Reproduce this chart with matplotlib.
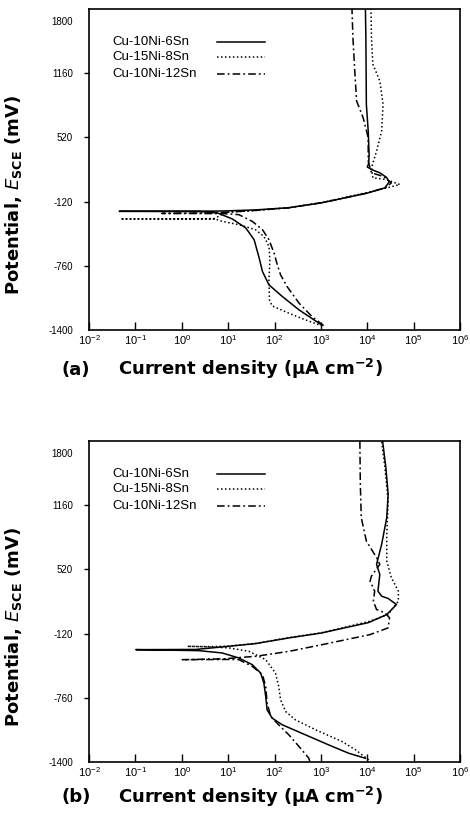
import matplotlib
matplotlib.use("Agg")
import matplotlib.pyplot as plt
from matplotlib.ticker import NullLocator
from matplotlib.transforms import ScaledTranslation

plt.rcParams['font.family'] = ['Liberation Sans', 'DejaVu Sans']

# alloy names and line styles (same order in both panels)
alloys = ['Cu-10Ni-6Sn', 'Cu-15Ni-8Sn', 'Cu-10Ni-12Sn']
styles = ['-', (0, (1, 1.6)), (0, (5, 2, 1.2, 2))]

# potential ticks (mV) and current decades
e_ticks = [-1400, -760, -120, 520, 1160, 1800]
decades = [-2, -1, 0, 1, 2, 3, 4, 5, 6]

# ---- panel (a): log10(i / uA cm-2) and E (mV) ----
a_6sn_logi = [3.00, 2.53, 2.17, 1.88, 1.74, 1.66, 1.56, 1.38, 1.09, 0.77, 0.40, -1.35,
              0.40, 0.87, 1.59, 2.31, 3.03, 4.00, 4.38, 4.47, 4.42, 4.27, 4.09, 4.00,
              4.03, 4.04, 4.02, 3.98, 3.97, 3.96]
a_6sn_e = [-1345, -1200, -1067, -950, -817, -667, -500, -383, -293, -233, -220, -217,
           -215, -214, -203, -181, -131, -35, 17, 75, 120, 167, 200, 225,
           260, 350, 583, 850, 1500, 1800]

a_8sn_logi = [3.03, 2.67, 2.31, 1.95, 1.89, 1.88, 1.90, 1.88, 1.77, 1.59, 1.23, 0.87, 0.73, -1.32,
              0.70, 0.95, 1.59, 2.31, 3.03, 4.00, 4.45, 4.70, 4.41, 4.12, 4.09, 4.20,
              4.31, 4.34, 4.27, 4.12, 4.09, 4.08]
a_8sn_e = [-1360, -1300, -1233, -1160, -1100, -900, -700, -567, -467, -400, -350, -317, -295, -293,
           -290, -228, -208, -180, -128, -30, 20, 50, 100, 117, 217, 383,
           583, 850, 1083, 1250, 1517, 1800]

a_12sn_logi = [3.06, 2.81, 2.53, 2.27, 2.13, 2.06, 1.99, 1.88, 1.74, 1.52, 1.23, 0.90, -0.43,
               0.50, 1.00, 1.59, 2.31, 3.03, 4.00, 4.40, 4.52, 4.35, 4.09, 4.02, 4.02,
               3.91, 3.77, 3.73, 3.69, 3.67]
a_12sn_e = [-1357, -1267, -1133, -967, -850, -750, -633, -500, -400, -317, -250, -240, -238,
            -235, -225, -208, -182, -130, -35, 20, 67, 130, 167, 283, 517,
            717, 883, 1183, 1517, 1800]

# ---- panel (b) ----
b_6sn_logi = [3.96, 3.60, 3.17, 2.67, 2.17, 1.95, 1.84, 1.81, 1.77, 1.70, 1.52, 1.23, 0.87, 0.37, -0.99,
              0.30, 0.87, 1.59, 2.31, 3.00, 4.03, 4.42, 4.63, 4.45, 4.31, 4.23, 4.27,
              4.20, 4.31, 4.42, 4.45, 4.40, 4.33]
b_6sn_e = [-1363, -1313, -1230, -1130, -1030, -963, -880, -747, -613, -513, -430, -363, -313, -290, -280,
           -278, -253, -220, -163, -115, -10, 70, 170, 230, 253, 303, 470,
           570, 770, 1037, 1270, 1537, 1800]

b_8sn_logi = [4.03, 3.75, 3.46, 2.89, 2.45, 2.24, 2.13, 2.09, 2.02, 1.81, 1.45, 1.02, 0.60, 0.12,
              0.60, 1.00, 1.59, 2.31, 3.03, 4.03, 4.45, 4.56, 4.67, 4.67, 4.52, 4.42,
              4.42, 4.45, 4.38, 4.31]
b_8sn_e = [-1380, -1280, -1197, -1080, -980, -897, -780, -647, -513, -380, -297, -263, -252, -247,
           -250, -245, -218, -160, -110, 0, 70, 137, 203, 303, 437, 603,
           870, 1203, 1537, 1800]

b_12sn_logi = [2.76, 2.74, 2.53, 2.31, 2.09, 1.92, 1.84, 1.81, 1.74, 1.52, 1.23, 1.00, 0.01,
               0.90, 1.20, 1.59, 2.31, 3.03, 4.06, 4.45, 4.48, 4.38, 4.20, 4.13, 4.16,
               4.06, 4.09, 4.27, 4.20, 3.98, 3.87, 3.85, 3.84]
b_12sn_e = [-1395, -1363, -1247, -1130, -1030, -947, -813, -647, -530, -447, -380, -378, -380,
            -372, -360, -347, -297, -230, -130, -63, 37, 87, 120, 203, 303,
            403, 453, 570, 637, 803, 1037, 1370, 1800]

panels = [
    ('(a)', [(a_6sn_logi, a_6sn_e), (a_8sn_logi, a_8sn_e), (a_12sn_logi, a_12sn_e)]),
    ('(b)', [(b_6sn_logi, b_6sn_e), (b_8sn_logi, b_8sn_e), (b_12sn_logi, b_12sn_e)]),
]

fig = plt.figure(figsize=(4.7, 8.26), dpi=100)
ax_a = fig.add_axes([0.1894, 0.6005, 0.7894, 0.3886])
ax_b = fig.add_axes([0.1894, 0.0775, 0.7894, 0.3886])

label_font = dict(family='DejaVu Sans', fontweight='bold', fontsize=13)
leg_rows = [0.897, 0.85, 0.797]  # legend row heights, axes fraction

for ax, (tag, curves), xlab_y in zip([ax_a, ax_b], panels, [-0.085, -0.07]):
    for (logi, e), name, ls, ry in zip(curves, alloys, styles, leg_rows):
        ax.plot([10 ** v for v in logi], e, color='black', lw=1.1, ls=ls)
        # hand-made legend: labels left aligned, samples lined up to the right
        ax.plot([0.345, 0.474], [ry, ry], transform=ax.transAxes, color='black', lw=1.1, ls=ls)
        ax.text(0.062, ry, name, transform=ax.transAxes, ha='left', va='center', fontsize=9.5)

    ax.set_xscale('log')
    ax.set_xlim(1e-2, 1e6)
    ax.set_ylim(-1400, 1800)
    ax.set_xticks([10.0 ** d for d in decades])
    ax.xaxis.set_minor_locator(NullLocator())
    ax.set_yticks(e_ticks)
    ax.set_yticklabels([str(v) for v in e_ticks])
    ax.tick_params(axis='x', direction='in', length=6, width=1, pad=2, labelsize=8)
    ax.tick_params(axis='y', direction='out', length=3.6, width=1, pad=8, labelsize=7)
    for s in ax.spines.values():
        s.set_linewidth(1.2)

    # no tick marks at the two ends of the potential axis, top label sits lower
    yt = ax.yaxis.get_major_ticks()
    yt[0].tick1line.set_visible(False)
    yt[-1].tick1line.set_visible(False)
    yt[-1].label1.set_transform(yt[-1].label1.get_transform()
                                + ScaledTranslation(0, -12 / 100, fig.dpi_scale_trans))

    ax.set_ylabel(r'Potential, $E_{\mathbf{SCE}}$ (mV)', **label_font)
    ax.yaxis.set_label_coords(-0.175, 0.42)
    ax.set_xlabel(r'Current density (µA cm$^{\mathbf{-2}}$)', **label_font)
    ax.xaxis.set_label_coords(0.434, xlab_y)
    ax.text(-0.035, xlab_y - 0.04, tag, transform=ax.transAxes, ha='center', va='center',
            **label_font)

fig.savefig('out.png', dpi=100)
